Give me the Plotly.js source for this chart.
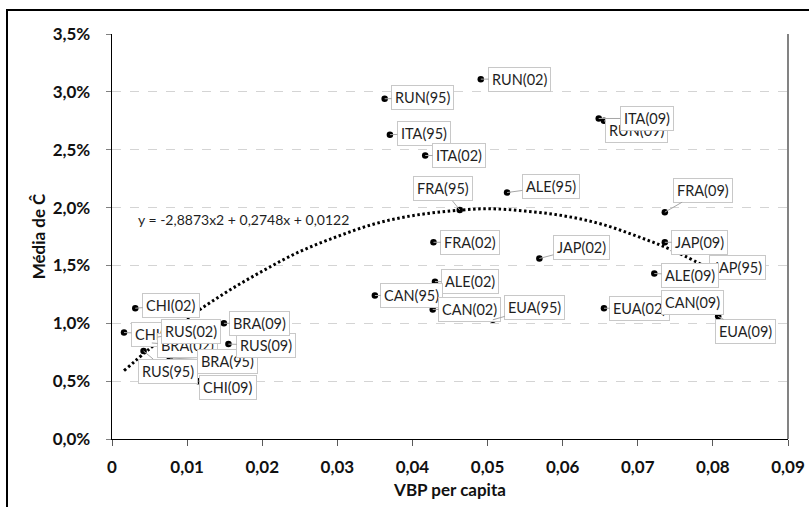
<!DOCTYPE html>
<html>
<head>
<meta charset="utf-8">
<script src="https://cdn.plot.ly/plotly-3.0.1.min.js"></script>
<style>
  html, body { margin: 0; padding: 0; background: #fff; overflow: hidden; }
  #wrap { position: relative; width: 809px; height: 507px; }
  #chart { width: 809px; height: 507px; }
  #frame { position: absolute; left: 6px; top: 9px; width: 900px; height: 600px;
           border-left: 2px solid #000; border-top: 2px solid #000; pointer-events: none; }
</style>
</head>
<body>
<div id="wrap"><div id="chart"></div><div id="frame"></div></div>
<script>
// ---- data ----
const pointNames = ['CHI(95)','CHI(02)','CHI(09)','RUS(95)','RUS(02)','RUS(09)','BRA(95)','BRA(02)','BRA(09)',
  'RUN(95)','RUN(02)','RUN(09)','ITA(95)','ITA(02)','ITA(09)','FRA(95)','FRA(02)','FRA(09)',
  'ALE(95)','ALE(02)','ALE(09)','JAP(95)','JAP(02)','JAP(09)','CAN(95)','CAN(02)','CAN(09)',
  'EUA(95)','EUA(02)','EUA(09)'];
const vbpPerCapita = [0.0016,0.0031,0.0115,0.0042,0.0060,0.0155,0.0077,0.0053,0.0149,
  0.0363,0.0491,0.0655,0.0370,0.0417,0.0648,0.0463,0.0428,0.0736,
  0.0526,0.0430,0.0722,0.0798,0.0569,0.0736,0.0350,0.0427,0.0745,
  0.0507,0.0655,0.0807];
const mediaC = [0.0092,0.0113,0.0050,0.0076,0.0088,0.0082,0.0070,0.0083,0.0100,
  0.0294,0.0311,0.0275,0.0263,0.0245,0.0277,0.0198,0.0170,0.0196,
  0.0213,0.0136,0.0143,0.0147,0.0156,0.0170,0.0124,0.0112,0.0118,
  0.0103,0.0113,0.0106];
// dotted trend curve
const trendX = [0.0016,0.005,0.010,0.015,0.020,0.025,0.030,0.035,0.040,0.045,0.050,0.055,0.060,0.065,0.070,0.075,0.081];
const trendY = [0.0059,0.0078,0.0104,0.0126,0.0145,0.0162,0.0175,0.0186,0.0193,0.0197,0.0199,0.0197,0.0193,0.0186,0.0175,0.0162,0.0142];
const equationText = 'y = -2,8873x2 + 0,2748x + 0,0122';
const xTitle = 'VBP per capita';
const yTitle = 'Média de Ĉ';

// ---- label placement (pixel offsets of each label box centre from its point) ----
const labelOffset = {
  'CHI(95)':[36,1.5],'CHI(02)':[36,-3],'CHI(09)':[30,6],'RUS(95)':[24,20],'RUS(02)':[34,-6],'RUS(09)':[38,1],
  'BRA(95)':[58,3],'BRA(02)':[36,3],'BRA(09)':[36,0],'RUN(95)':[38,-1],'RUN(02)':[39,0],'RUN(09)':[33,10],
  'ITA(95)':[34,-1],'ITA(02)':[34,0],'ITA(09)':[48,0],'FRA(95)':[-17,-21],'FRA(02)':[37,0],'FRA(09)':[38,-22],
  'ALE(95)':[44,-6],'ALE(02)':[35,0],'ALE(09)':[36,1.5],'JAP(95)':[26,-1],'JAP(02)':[42,-11],'JAP(09)':[35,0],
  'CAN(95)':[37,0],'CAN(02)':[37,0],'CAN(09)':[21,0],'EUA(95)':[42,-12],'EUA(02)':[36,0],'EUA(09)':[27,15]
};
const drawOrder = ['CHI(95)','BRA(02)','RUS(02)','BRA(95)','RUS(95)','CHI(02)','CHI(09)','RUS(09)','BRA(09)',
  'RUN(95)','RUN(02)','RUN(09)','ITA(09)','ITA(95)','ITA(02)','FRA(95)','FRA(02)','FRA(09)','ALE(95)','ALE(02)',
  'JAP(95)','ALE(09)','JAP(02)','JAP(09)','CAN(95)','CAN(02)','EUA(95)','EUA(02)','CAN(09)','EUA(09)'];

const FONT = 'Lato, "Open Sans", sans-serif';

const traces = [
  { type:'scatter', mode:'lines', x: trendX, y: trendY, line:{color:'#000', width:3, dash:'2.5px,2.6px', shape:'spline'},
    hoverinfo:'skip', showlegend:false },
  { type:'scatter', mode:'markers', x: vbpPerCapita, y: mediaC, text: pointNames,
    marker:{color:'#000', size:6.5}, showlegend:false }
];

const annotations = drawOrder.map(name => {
  const i = pointNames.indexOf(name);
  const off = labelOffset[name];
  return { x: vbpPerCapita[i], y: mediaC[i], xref:'x', yref:'y', text: name,
    showarrow:true, arrowhead:0, arrowwidth:1, arrowcolor:'#a6a6a6', standoff:0,
    ax: off[0], ay: off[1], axref:'pixel', ayref:'pixel',
    font:{family:FONT, size:14.5, color:'#1f1f1f'},
    bgcolor:'#fff', bordercolor:'#c8c8c8', borderwidth:1, borderpad:3 };
});
annotations.push({ x:0.0032, y:0.0190, xref:'x', yref:'y', text: equationText, showarrow:false,
  xanchor:'left', yanchor:'middle', font:{family:FONT, size:14, color:'#1f1f1f'} });

const layout = {
  width:809, height:507,
  margin:{l:112, r:21, t:34, b:68, pad:0},
  paper_bgcolor:'#fff', plot_bgcolor:'#fff',
  separators:',.',
  showlegend:false,
  font:{family:FONT, color:'#1a1a1a'},
  xaxis:{ range:[0,0.09], dtick:0.01, tick0:0, showgrid:false, zeroline:false,
    showline:true, linecolor:'#000', linewidth:1.3, ticks:'outside', ticklen:6, tickcolor:'#595959', tickwidth:1,
    tickfont:{family:FONT, size:17, color:'#111', weight:'bold'}, ticklabelstandoff:6,
    title:{text:xTitle, font:{family:FONT, size:17, color:'#111', weight:'bold'}, standoff:8} },
  yaxis:{ range:[0,0.035], dtick:0.005, tick0:0, tickformat:'.1%', showgrid:true, gridcolor:'#d4d4d4', griddash:'dash', gridwidth:1,
    zeroline:false, showline:true, linecolor:'#000', linewidth:1.3, ticks:'outside', ticklen:5, tickcolor:'#808080', tickwidth:1,
    tickfont:{family:FONT, size:17, color:'#111', weight:'bold'}, ticklabelstandoff:12,
    title:{text:yTitle, font:{family:FONT, size:17, color:'#111', weight:'bold'}, standoff:2} },
  shapes:[{type:'line', xref:'paper', yref:'paper', x0:1, x1:1, y0:0, y1:1, line:{color:'#404040', width:1.3}}],
  annotations: annotations
};

Plotly.newPlot('chart', traces, layout, {staticPlot:true, displayModeBar:false});
</script>
</body>
</html>
